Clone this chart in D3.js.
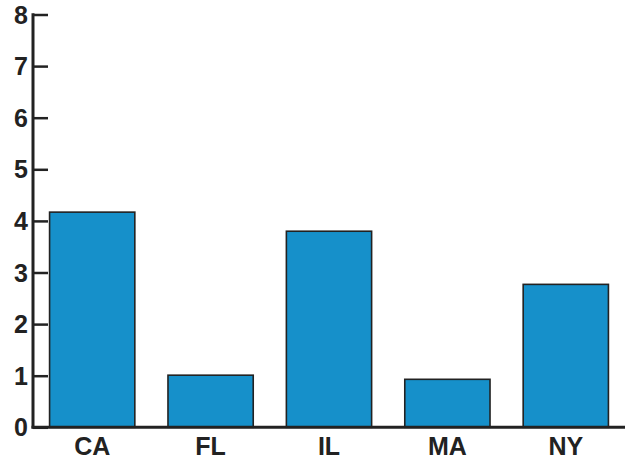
<!DOCTYPE html>
<html><head><meta charset="utf-8">
<script src="https://cdn.jsdelivr.net/npm/d3@7"></script>
<style>body{margin:0;background:#fff}svg{display:block}</style>
</head><body>
<svg id="c" width="631" height="460"></svg>
<script>
const categories = ["CA", "FL", "IL", "MA", "NY"];
const values = [4.17, 1.01, 3.80, 0.93, 2.77];
const yTicks = [0, 1, 2, 3, 4, 5, 6, 7, 8];

const svg = d3.select("#c");
const x0 = 33, x1 = 625, yTop = 14.5, yBot = 427.3;
const x = d3.scaleBand().domain(categories).range([x0, x1]).paddingInner(0.28).paddingOuter(0.14);
const y = d3.scaleLinear().domain([0, 8]).range([yBot, yTop]);
const ink = "#222";
const font = "'Liberation Sans', Arial, Helvetica, sans-serif";

svg.selectAll("rect.bar").data(values).enter().append("rect")
  .attr("class", "bar")
  .attr("x", (d, i) => x(categories[i]))
  .attr("y", d => y(d))
  .attr("width", x.bandwidth())
  .attr("height", d => y(0) - y(d))
  .attr("fill", "#1690CA")
  .attr("stroke", ink)
  .attr("stroke-width", 1.6);

// y axis
const ya = svg.append("g").attr("transform", `translate(${x0},0)`)
  .call(d3.axisRight(y).tickValues(yTicks).tickSize(15).tickFormat(""));
ya.select(".domain").remove();
ya.selectAll(".tick line").attr("stroke", ink).attr("stroke-width", 2.5);
svg.append("line").attr("x1", x0).attr("x2", x0).attr("y1", yTop - 1.2).attr("y2", yBot + 1.2)
  .attr("stroke", ink).attr("stroke-width", 3);
svg.selectAll("text.yl").data(yTicks).enter().append("text")
  .attr("class", "yl")
  .attr("x", x0 - 5).attr("y", d => y(d) + 9)
  .attr("text-anchor", "end")
  .attr("font-family", font).attr("font-weight", "bold").attr("font-size", 25)
  .attr("fill", ink).text(d => d);

// x axis
svg.append("line").attr("x1", x0 - 1.5).attr("x2", x1).attr("y1", yBot).attr("y2", yBot)
  .attr("stroke", ink).attr("stroke-width", 3);
svg.selectAll("text.xl").data(categories).enter().append("text")
  .attr("class", "xl")
  .attr("x", d => x(d) + x.bandwidth() / 2).attr("y", 455)
  .attr("text-anchor", "middle")
  .attr("font-family", font).attr("font-weight", "bold").attr("font-size", 25)
  .attr("fill", ink).text(d => d);
</script>
</body></html>
